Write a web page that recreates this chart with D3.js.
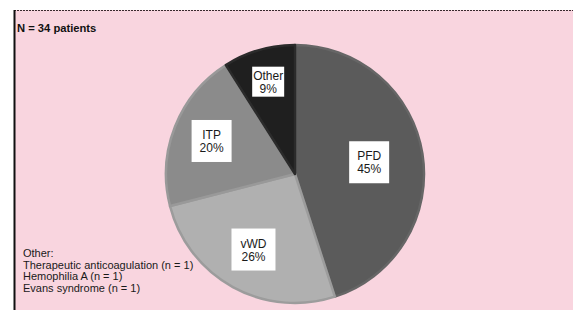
<!DOCTYPE html>
<html>
<head>
<meta charset="utf-8">
<script src="https://cdn.jsdelivr.net/npm/d3@7"></script>
<style>
  body { margin: 0; background: #fff; }
  svg { display: block; font-family: "Liberation Sans", Arial, sans-serif; }
</style>
</head>
<body>
<svg id="chart" width="573" height="310"></svg>
<script>
const categories = ['PFD', 'vWD', 'ITP', 'Other'];
const percents = [45, 26, 20, 9];
const sliceFills = ['#5b5b5b', '#b0b0b0', '#8b8b8b', '#1f1f1f'];
const sliceEdges = ['#666666', '#9c9c9c', '#999999', '#2b2b2b'];
const title = 'N = 34 patients';
const noteLines = ['Other:', 'Therapeutic anticoagulation (n = 1)', 'Hemophilia A (n = 1)', 'Evans syndrome (n = 1)'];

const svg = d3.select('#chart');

// pink panel with left + top border
svg.append('rect')
  .attr('x', 14).attr('y', 10)
  .attr('width', 573 - 14).attr('height', 300)
  .attr('fill', '#f9d5df');
svg.append('line')
  .attr('x1', 14).attr('y1', 10.5).attr('x2', 573).attr('y2', 10.5)
  .attr('stroke', '#3a2a2e').attr('stroke-width', 1.2)
  .attr('stroke-dasharray', '2,1');
svg.append('line')
  .attr('x1', 14.5).attr('y1', 10).attr('x2', 14.5).attr('y2', 310)
  .attr('stroke', '#111').attr('stroke-width', 2);

svg.append('text')
  .attr('x', 17).attr('y', 32)
  .attr('font-size', 11.2).attr('font-weight', 'bold')
  .attr('fill', '#111')
  .text(title);

const cx = 295, cy = 174, r = 130;
const g = svg.append('g').attr('transform', `translate(${cx},${cy})`);

const pie = d3.pie().sort(null).value(d => d.value);
const data = pie(categories.map((c, i) => ({ name: c, value: percents[i], i: i })));
const arc = d3.arc().innerRadius(0).outerRadius(r - 1);

// smaller slices push their label further out (like the original's best fit)
const labelPos = d => {
  const frac = (d.endAngle - d.startAngle) / (2 * Math.PI);
  const lr = r * (0.78 - 0.45 * frac);
  return d3.arc().innerRadius(lr).outerRadius(lr).centroid(d);
};

g.selectAll('path.slice')
  .data(data)
  .enter().append('path')
    .attr('class', 'slice')
    .attr('d', arc)
    .attr('fill', d => sliceFills[d.data.i])
    .attr('stroke', d => sliceEdges[d.data.i])
    .attr('stroke-width', 2.5)
    .attr('stroke-linejoin', 'round');

const labels = g.selectAll('g.lab')
  .data(data)
  .enter().append('g')
    .attr('class', 'lab')
    .attr('transform', d => `translate(${labelPos(d)})`);

labels.append('rect')
  .attr('x', d => d.data.name === 'Other' ? -16 : (d.data.name === 'vWD' ? -22 : -20))
  .attr('y', d => d.data.name === 'Other' ? -15 : -21)
  .attr('width', d => d.data.name === 'Other' ? 32 : (d.data.name === 'vWD' ? 44 : 40))
  .attr('height', d => d.data.name === 'Other' ? 30 : 42)
  .attr('fill', '#fff');

labels.append('text')
  .attr('text-anchor', 'middle')
  .attr('font-size', 12)
  .attr('fill', '#1a1a1a')
  .selectAll('tspan')
  .data(d => [d.data.name, d.data.value + '%'])
  .enter().append('tspan')
    .attr('x', 0)
    .attr('y', (t, j) => j === 0 ? -2 : 11)
    .text(t => t);

svg.append('g')
  .selectAll('text')
  .data(noteLines)
  .enter().append('text')
    .attr('x', 23)
    .attr('y', (t, j) => 257 + j * 11.5)
    .attr('font-size', 11)
    .attr('fill', '#1a1a1a')
    .text(t => t);
</script>
</body>
</html>
